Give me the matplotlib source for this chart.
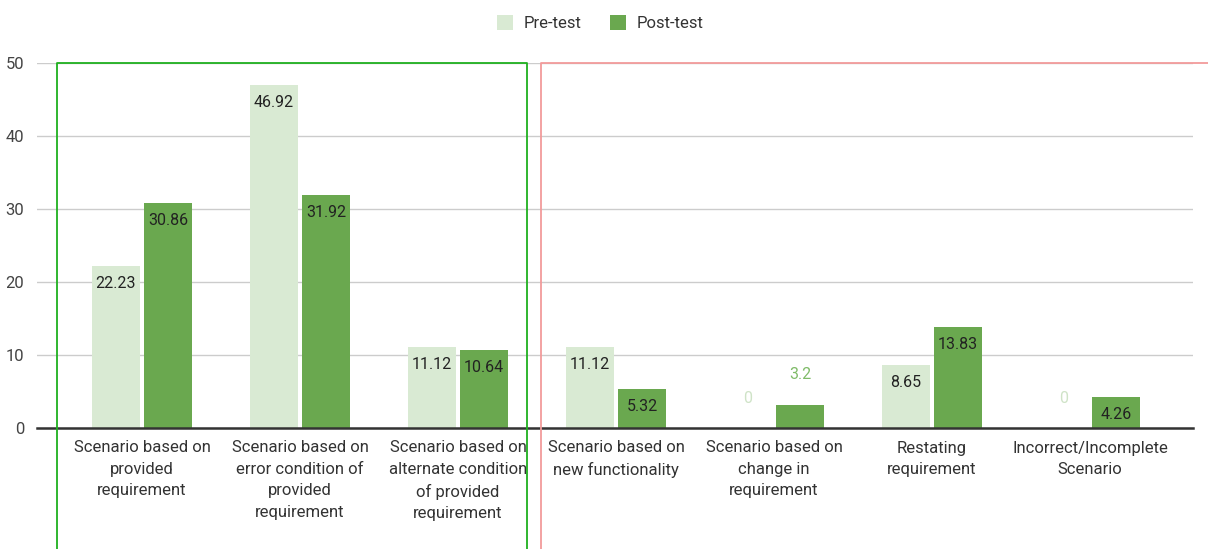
import matplotlib
matplotlib.use("Agg")
import matplotlib.pyplot as plt
import matplotlib.transforms as mtransforms
from matplotlib.lines import Line2D
from matplotlib.patches import Patch
import numpy as np

plt.rcParams['font.family'] = ['Roboto', 'DejaVu Sans']

categories = [
    "Scenario based on\nprovided\nrequirement",
    "Scenario based on\nerror condition of\nprovided\nrequirement",
    "Scenario based on\nalternate condition\nof provided\nrequirement",
    "Scenario based on\nnew functionality",
    "Scenario based on\nchange in\nrequirement",
    "Restating\nrequirement",
    "Incorrect/Incomplete\nScenario",
]
pre_test = [22.23, 46.92, 11.12, 11.12, 0, 8.65, 0]
post_test = [30.86, 31.92, 10.64, 5.32, 3.2, 13.83, 4.26]
pre_labels = ["22.23", "46.92", "11.12", "11.12", "0", "8.65", "0"]
post_labels = ["30.86", "31.92", "10.64", "5.32", "3.2", "13.83", "4.26"]
y_ticks = [0, 10, 20, 30, 40, 50]

PRE_COLOR = "#d9ead3"
POST_COLOR = "#6aa84f"

fig = plt.figure(figsize=(12.08, 5.49), dpi=100)
ax = fig.add_axes([37 / 1208, 1 - 428 / 549, 1156 / 1208, 365 / 549])

x = np.arange(len(categories))
width = 0.304
offset = 0.165

bars_pre = ax.bar(x - offset, pre_test, width, color=PRE_COLOR, zorder=2, label="Pre-test")
bars_post = ax.bar(x + offset, post_test, width, color=POST_COLOR, zorder=2, label="Post-test")


def label_bars(bars, labels, outside_color):
    for rect, txt in zip(bars, labels):
        h = rect.get_height()
        cx = rect.get_x() + rect.get_width() / 2
        if h >= 4:
            ax.annotate(txt, (cx, h), xytext=(0, -12.5), textcoords="offset points",
                        ha="center", va="center", fontsize=11.5, color="#222222", zorder=4)
        else:
            ax.annotate(txt, (cx, h), xytext=(0, 21.5), textcoords="offset points",
                        ha="center", va="center", fontsize=11.5, color=outside_color, zorder=4)


label_bars(bars_pre, pre_labels, "#cfe3c7")
label_bars(bars_post, post_labels, "#7fbb68")

ax.set_xlim(-0.665, 6.652)
ax.set_ylim(0, 50)
ax.set_yticks(y_ticks)
ax.set_yticklabels([str(v) for v in y_ticks])
ax.set_xticks(x)
ax.set_xticklabels(categories, fontsize=12, color="#333333", linespacing=1.53)
ax.tick_params(axis="x", length=0, pad=9)
ax.tick_params(axis="y", length=0, pad=9, labelsize=12, labelcolor="#444444")

ax.grid(axis="y", color="#cccccc", linewidth=1, zorder=0)
ax.set_axisbelow(True)
for side in ["left", "right", "top"]:
    ax.spines[side].set_visible(False)
ax.spines["bottom"].set_color("#333333")
ax.spines["bottom"].set_linewidth(1.8)
ax.spines["bottom"].set_zorder(3)

# Group outlines: green around the first three categories, red around the rest
trans = mtransforms.blended_transform_factory(ax.transData, ax.transAxes)
green_x = [-0.538, -0.538, 2.436, 2.436]
green_y = [-0.5, 1.0, 1.0, -0.5]
ax.add_line(Line2D(green_x, green_y, transform=trans, color="#1fb01f",
                   linewidth=1.3, clip_on=False, zorder=5))
red_x = [2.525, 2.525, 8.0]
red_y = [-0.5, 1.0, 1.0]
ax.add_line(Line2D(red_x, red_y, transform=trans, color="#f29b9b",
                   linewidth=1.3, clip_on=False, zorder=5))

handles = [Patch(facecolor=PRE_COLOR, edgecolor="none", label="Pre-test"),
           Patch(facecolor=POST_COLOR, edgecolor="none", label="Post-test")]
fig.legend(handles=handles, loc="center", bbox_to_anchor=(600 / 1208, 1 - 23 / 549),
           ncol=2, frameon=False, fontsize=12, handlelength=1.0, handleheight=1.0,
           handletextpad=0.6, columnspacing=1.7, labelcolor="#333333")

fig.savefig("out.png", dpi=100)
